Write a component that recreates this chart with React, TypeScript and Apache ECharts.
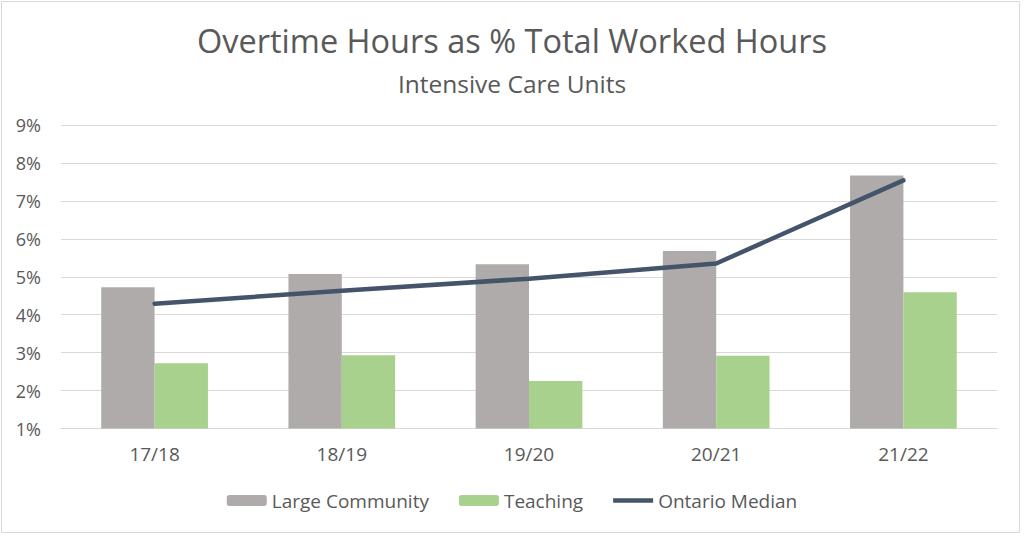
import React, { useEffect, useRef } from "react";
import * as echarts from "echarts";

const categories = ["17/18", "18/19", "19/20", "20/21", "21/22"];
const largeCommunity = [4.72, 5.07, 5.33, 5.68, 7.67];
const teaching = [2.72, 2.93, 2.25, 2.92, 4.59];
const ontarioMedian = [4.29, 4.63, 4.95, 5.35, 7.54];

const FONT = "Open Sans";
const TEXT = "#595959";

export default function App() {
  const ref = useRef<HTMLDivElement>(null);
  useEffect(() => {
    document.body.style.margin = "0";
    const chart = echarts.init(ref.current!, null, { renderer: "svg" });
    chart.setOption({
      animation: false,
      backgroundColor: "#ffffff",
      textStyle: { fontFamily: FONT },
      title: [
        {
          text: "Overtime Hours as % Total Worked Hours",
          left: "center",
          top: 19,
          textStyle: { fontFamily: FONT, fontSize: 32.5, fontWeight: "normal", color: TEXT },
        },
        {
          text: "Intensive Care Units",
          left: "center",
          top: 66,
          textStyle: { fontFamily: FONT, fontSize: 24.5, fontWeight: "normal", color: TEXT },
        },
      ],
      graphic: [
        {
          type: "rect",
          shape: { x: 1.5, y: 1.5, width: 1018, height: 531 },
          style: { fill: "none", stroke: "#D9D9D9", lineWidth: 1 },
          silent: true,
        },
      ],
      legend: {
        bottom: 22,
        left: "center",
        itemWidth: 40,
        itemHeight: 11,
        itemGap: 30,
        textStyle: { fontFamily: FONT, fontSize: 19, color: TEXT },
        data: [
          "Large Community",
          "Teaching",
          { name: "Ontario Median", icon: "path://M0,0 L40,0 L40,4.5 L0,4.5 Z" },
        ],
      },
      grid: { left: 61, right: 27, top: 125, bottom: 108.5 },
      xAxis: {
        type: "category",
        data: categories,
        axisLine: { lineStyle: { color: "#D9D9D9", width: 1 } },
        axisTick: { show: false },
        axisLabel: { fontFamily: FONT, fontSize: 19, color: TEXT, margin: 16 },
      },
      yAxis: {
        type: "value",
        min: 1,
        max: 9,
        interval: 1,
        axisLine: { show: false },
        axisTick: { show: false },
        axisLabel: { formatter: "{value}%", fontFamily: FONT, fontSize: 18, color: TEXT, margin: 20 },
        splitLine: { lineStyle: { color: "#D9D9D9", width: 1 } },
      },
      series: [
        {
          name: "Large Community",
          type: "bar",
          data: largeCommunity,
          barGap: "0%",
          barCategoryGap: "43%",
          itemStyle: { color: "#AFABAB" },
        },
        {
          name: "Teaching",
          type: "bar",
          data: teaching,
          itemStyle: { color: "#A9D18E" },
        },
        {
          name: "Ontario Median",
          type: "line",
          data: ontarioMedian,
          symbol: "none",
          lineStyle: { color: "#44546A", width: 4.5, cap: "round" },
          itemStyle: { color: "#44546A" },
          z: 5,
        },
      ],
    });
    return () => chart.dispose();
  }, []);
  return <div ref={ref} style={{ width: 1024, height: 537 }} />;
}
